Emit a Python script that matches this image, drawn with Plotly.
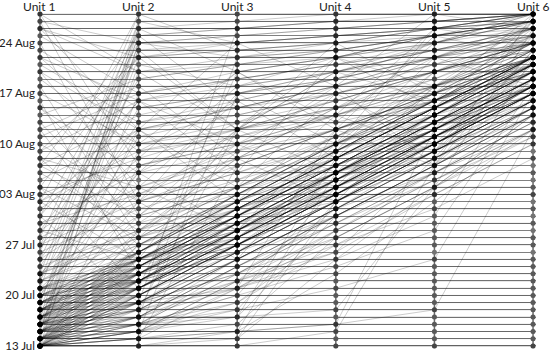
import plotly.graph_objects as go
import pandas as pd

# ---------------- data ----------------
units = ["Unit 1", "Unit 2", "Unit 3", "Unit 4", "Unit 5", "Unit 6"]
start_date = "2015-07-13"          # day 0
last_day = 46                      # 28 Aug
tick_days = [0, 7, 14, 21, 28, 35, 42]
tick_labels = ["13 Jul", "20 Jul", "27 Jul", "03 Aug", "10 Aug", "17 Aug", "24 Aug"]

# each record: day offsets (from 13 Jul) at Unit 1..6
band_records = [
    (0, 7, 14, 21, 28, 35), (0, 7, 14, 21, 28, 36), (0, 6, 13, 20, 27, 34), (0, 8, 15, 22, 29, 36),
    (1, 8, 15, 22, 29, 36), (1, 7, 14, 21, 28, 35), (1, 8, 14, 21, 29, 35), (2, 9, 16, 23, 30, 37),
    (2, 8, 15, 22, 29, 37), (2, 9, 15, 22, 29, 36), (3, 10, 17, 24, 31, 38), (3, 9, 16, 23, 30, 37),
    (3, 10, 16, 24, 30, 38), (4, 11, 18, 25, 32, 39), (4, 10, 17, 24, 31, 38), (4, 11, 17, 24, 32, 39),
    (5, 12, 19, 26, 33, 40), (5, 11, 18, 25, 32, 39), (5, 12, 18, 26, 33, 40), (6, 13, 20, 27, 34, 40),
    (6, 12, 19, 26, 33, 40), (6, 13, 20, 27, 34, 41), (7, 13, 20, 27, 34, 40), (7, 12, 19, 26, 33, 39),
    (7, 13, 21, 28, 34, 41), (8, 13, 21, 28, 33, 40), (8, 12, 20, 27, 33, 39), (0, 9, 16, 23, 30, 37),
    (0, 10, 17, 24, 31, 38), (0, 11, 18, 25, 32, 39), (0, 12, 19, 26, 33, 40), (1, 10, 17, 24, 31, 38),
    (1, 11, 18, 25, 32, 39), (2, 11, 18, 25, 32, 40), (2, 12, 19, 26, 33, 40), (3, 12, 19, 26, 33, 40),
    (3, 13, 20, 27, 34, 40), (4, 13, 20, 27, 34, 39), (5, 13, 21, 28, 34, 40), (0, 5, 12, 19, 26, 33),
    (0, 4, 11, 18, 25, 32), (0, 3, 10, 17, 24, 31), (1, 5, 12, 19, 26, 33), (1, 6, 13, 20, 27, 34),
    (2, 6, 13, 20, 27, 34), (2, 7, 14, 21, 28, 35), (3, 7, 14, 21, 28, 35), (3, 8, 15, 22, 29, 36),
    (4, 8, 15, 22, 29, 36), (4, 9, 16, 23, 30, 37), (5, 9, 16, 23, 30, 37), (5, 10, 17, 24, 31, 38),
    (6, 10, 17, 24, 31, 38), (6, 11, 18, 25, 32, 39), (7, 11, 18, 25, 32, 39), (7, 10, 19, 26, 33, 40),
    (8, 11, 19, 26, 33, 40), (8, 10, 18, 27, 34, 41), (1, 9, 13, 20, 28, 35), (2, 10, 14, 22, 27, 34),
    (3, 11, 15, 21, 29, 36), (4, 12, 16, 23, 28, 35), (5, 8, 15, 25, 30, 37), (6, 9, 17, 22, 31, 36),
    (0, 7, 13, 22, 30, 35), (1, 6, 14, 23, 29, 38), (2, 8, 16, 24, 31, 36), (3, 9, 17, 20, 27, 37),
    (4, 10, 18, 21, 29, 34), (5, 11, 19, 23, 32, 38), (6, 12, 15, 24, 28, 36), (7, 12, 18, 25, 30, 39),
]

band_extra_records = [
    (0, 2, 9, 16, 23, 30), (0, 1, 8, 15, 22, 29), (1, 3, 10, 17, 24, 31), (1, 4, 11, 18, 25, 32),
    (2, 4, 11, 18, 25, 32), (2, 5, 12, 19, 26, 33), (3, 5, 12, 19, 26, 33), (3, 6, 13, 20, 27, 34),
    (4, 6, 13, 20, 27, 34), (4, 7, 14, 21, 28, 35), (5, 7, 14, 21, 28, 35), (5, 8, 14, 21, 28, 35),
    (6, 8, 15, 22, 29, 36), (6, 9, 16, 23, 30, 37), (7, 9, 16, 23, 30, 37), (7, 9, 15, 22, 29, 36),
    (8, 9, 17, 24, 31, 38), (8, 14, 21, 28, 35, 42), (9, 14, 21, 28, 35, 42), (9, 15, 22, 29, 36, 43),
    (10, 16, 22, 29, 36, 42), (0, 6, 12, 18, 24, 30), (0, 8, 16, 24, 32, 40), (1, 7, 15, 23, 31, 39),
    (2, 8, 14, 20, 26, 32), (3, 9, 15, 21, 27, 33), (4, 10, 16, 22, 28, 34), (5, 11, 17, 23, 29, 35),
    (6, 12, 18, 24, 30, 36), (0, 14, 20, 26, 33, 39), (1, 13, 19, 25, 32, 38), (2, 14, 21, 27, 33, 39),
    (3, 15, 22, 28, 34, 41), (4, 16, 23, 29, 35, 42), (0, 2, 6, 14, 21, 28), (1, 4, 8, 16, 23, 30),
    (2, 6, 10, 18, 25, 32), (3, 5, 9, 13, 26, 34), (0, 3, 7, 11, 16, 36), (1, 2, 9, 19, 27, 33),
]

riser_records = [
    (2, 44, 44, 45, 45, 46), (3, 42, 43, 44, 45, 46), (5, 40, 41, 42, 43, 45), (8, 43, 44, 44, 45, 46),
    (10, 45, 45, 46, 46, 46), (12, 41, 42, 43, 44, 45), (15, 44, 45, 45, 46, 46), (18, 42, 42, 43, 44, 45),
    (20, 46, 46, 46, 46, 46), (6, 38, 39, 40, 42, 44), (1, 35, 37, 39, 41, 43), (4, 30, 33, 36, 39, 42),
    (9, 33, 35, 37, 40, 43), (14, 37, 39, 41, 43, 45), (22, 40, 41, 42, 44, 45), (25, 43, 44, 45, 45, 46),
    (0, 25, 28, 31, 34, 38), (3, 27, 30, 33, 36, 40), (7, 29, 32, 35, 38, 41), (11, 31, 34, 37, 40, 43),
    (16, 34, 36, 38, 41, 44), (0, 42, 40, 41, 43, 44), (1, 45, 42, 43, 44, 46), (2, 39, 36, 38, 40, 42),
    (4, 43, 33, 35, 38, 42), (6, 41, 30, 32, 36, 41), (9, 44, 38, 40, 42, 45), (13, 46, 41, 42, 44, 46),
]

faller_records = [
    (44, 30, 32, 35, 38, 41), (45, 20, 25, 30, 35, 40), (46, 25, 28, 32, 36, 40), (42, 18, 22, 28, 33, 38),
    (40, 28, 30, 33, 36, 39), (38, 22, 26, 30, 34, 38), (36, 15, 20, 25, 31, 37), (33, 24, 27, 30, 34, 38),
    (30, 12, 18, 24, 30, 36), (28, 20, 24, 28, 32, 36), (43, 35, 37, 39, 41, 43), (41, 33, 35, 37, 40, 42),
    (37, 27, 29, 32, 35, 39), (34, 10, 16, 22, 28, 35), (31, 17, 21, 26, 31, 37), (26, 14, 19, 24, 29, 35),
    (24, 16, 20, 25, 30, 36), (22, 8, 14, 20, 27, 34), (20, 12, 17, 23, 29, 35), (18, 6, 12, 19, 26, 33),
    (46, 38, 40, 41, 43, 45), (45, 42, 43, 44, 45, 46), (44, 40, 42, 43, 44, 46), (39, 31, 33, 36, 39, 42),
]

mid_records = [
    (15, 22, 27, 32, 37, 42), (16, 25, 29, 33, 38, 43), (17, 21, 26, 30, 35, 40), (19, 28, 31, 34, 38, 42),
    (21, 26, 30, 34, 38, 42), (23, 30, 33, 36, 40, 44), (25, 32, 35, 38, 41, 44), (27, 34, 37, 39, 42, 45),
    (29, 35, 38, 40, 43, 45), (32, 37, 39, 41, 43, 45), (14, 20, 24, 29, 34, 39), (13, 19, 23, 27, 32, 38),
    (10, 18, 22, 26, 31, 36), (11, 16, 25, 30, 36, 41), (12, 21, 28, 35, 39, 44), (9, 17, 26, 33, 37, 43),
    (17, 24, 31, 36, 40, 45), (20, 27, 34, 37, 42, 46), (8, 20, 30, 38, 42, 45), (10, 24, 36, 40, 43, 46),
]

scatter_records = [
    (20, 30, 22, 35, 28, 40), (25, 18, 30, 24, 36, 42), (30, 36, 26, 33, 40, 44), (35, 28, 38, 31, 42, 46),
    (10, 22, 34, 26, 38, 44), (12, 30, 20, 32, 27, 39), (14, 26, 38, 30, 43, 40), (18, 34, 24, 40, 33, 45),
    (22, 15, 27, 36, 25, 41), (27, 40, 30, 42, 35, 46), (33, 20, 35, 28, 44, 42), (38, 30, 42, 36, 46, 44),
    (5, 18, 28, 22, 36, 40), (7, 24, 16, 30, 25, 37), (0, 16, 26, 20, 33, 43), (3, 20, 12, 27, 40, 36),
    (16, 12, 30, 38, 34, 44), (26, 22, 16, 28, 38, 42), (40, 34, 28, 32, 44, 46), (44, 38, 30, 40, 36, 45),
]

late_jump_records = [
    (0, 2, 35, 38, 41, 44), (1, 4, 40, 42, 44, 46), (2, 5, 30, 34, 38, 42), (0, 1, 25, 30, 35, 40),
    (3, 6, 44, 45, 45, 46), (4, 8, 38, 40, 43, 45), (0, 1, 3, 15, 22, 30), (0, 2, 4, 18, 25, 33),
    (1, 2, 5, 20, 27, 35), (0, 0, 2, 10, 20, 30), (0, 3, 6, 16, 24, 32), (2, 3, 7, 22, 29, 36),
    (0, 1, 1, 20, 28, 36), (1, 2, 2, 24, 31, 38), (0, 0, 1, 12, 22, 32), (3, 4, 4, 26, 32, 39),
    (5, 6, 8, 30, 35, 40), (0, 0, 0, 2, 25, 33), (1, 1, 2, 3, 30, 37), (2, 3, 4, 5, 22, 32),
    (0, 1, 2, 3, 5, 30), (1, 3, 5, 8, 12, 35), (2, 5, 8, 12, 18, 40), (3, 6, 10, 15, 22, 44),
    (5, 9, 13, 18, 25, 46), (8, 12, 16, 21, 27, 43), (10, 15, 19, 24, 30, 45), (6, 10, 14, 20, 26, 41),
    (0, 4, 9, 14, 19, 26), (1, 3, 11, 17, 23, 29), (0, 2, 8, 13, 21, 28), (2, 4, 12, 19, 24, 31),
]

flat_days = [0, 0, 1, 2, 3, 4, 5, 6, 7, 8, 9, 10, 11, 12, 14, 15, 17, 19, 21, 21, 22,
             24, 26, 28, 29, 31, 33, 35, 36, 38, 40, 41, 42, 44, 46]

# ---------------- figure ----------------
base = pd.Timestamp(start_date)


def day(d):
    return base + pd.Timedelta(days=d)


records = (band_records + band_extra_records + riser_records + faller_records
           + mid_records + scatter_records + late_jump_records)
records = records + [tuple([d] * len(units)) for d in flat_days]

line_x, line_y = [], []
pt_x, pt_y = [], []
for rec in records:
    for i, d in enumerate(rec):
        line_x.append(i)
        line_y.append(day(d))
        pt_x.append(i)
        pt_y.append(day(d))
    line_x.append(None)
    line_y.append(None)

all_days = list(range(0, last_day + 1))

fig = go.Figure()

# vertical unit axes
ax_x, ax_y = [], []
for i in range(len(units)):
    ax_x += [i, i, None]
    ax_y += [day(0), day(last_day), None]
fig.add_trace(go.Scatter(x=ax_x, y=ax_y, mode="lines",
                         line=dict(color="#6a6a6a", width=1.5), hoverinfo="skip"))

# record lines
fig.add_trace(go.Scatter(x=line_x, y=line_y, mode="lines",
                         line=dict(color="rgba(0,0,0,0.25)", width=0.8), hoverinfo="skip"))

# date dots on each axis
gx = [i for i in range(len(units)) for _ in all_days]
gy = [day(d) for _ in range(len(units)) for d in all_days]
fig.add_trace(go.Scatter(x=gx, y=gy, mode="markers", cliponaxis=False,
                         marker=dict(color="#737373", size=5), hoverinfo="skip"))
fig.add_trace(go.Scatter(x=pt_x, y=pt_y, mode="markers", cliponaxis=False,
                         marker=dict(color="rgba(0,0,0,0.22)", size=5), hoverinfo="skip"))

font_family = "Lato, 'Open Sans', sans-serif"

for i, u in enumerate(units):
    fig.add_annotation(x=i, y=1, xref="x", yref="paper", text=u, showarrow=False,
                       yanchor="middle", yshift=6,
                       font=dict(family=font_family, size=12, color="#222"))

fig.update_layout(
    template="none",
    width=553, height=354,
    margin=dict(l=39, r=17, t=12, b=6, autoexpand=False),
    paper_bgcolor="white", plot_bgcolor="white",
    showlegend=False,
    xaxis=dict(range=[-0.01, 5.03], showgrid=False, zeroline=False, showticklabels=False,
               showline=False, ticks="", automargin=False),
    yaxis=dict(type="date", automargin=False,
               range=[base - pd.Timedelta(hours=7), day(last_day) + pd.Timedelta(hours=7)],
               tickvals=[day(d) for d in tick_days], ticktext=tick_labels,
               showgrid=True, gridcolor="#808080", gridwidth=1,
               minor=dict(dtick=86400000, tick0=start_date, showgrid=True,
                          gridcolor="#808080", gridwidth=1),
               zeroline=False, showline=False, ticks="", ticklabelstandoff=3,
               tickfont=dict(family=font_family, size=11.5, color="#222")),
)

fig.write_html("out.html", config={"displayModeBar": False, "staticPlot": True},
               post_script="document.body.style.margin='0';document.body.style.overflow='hidden';")
